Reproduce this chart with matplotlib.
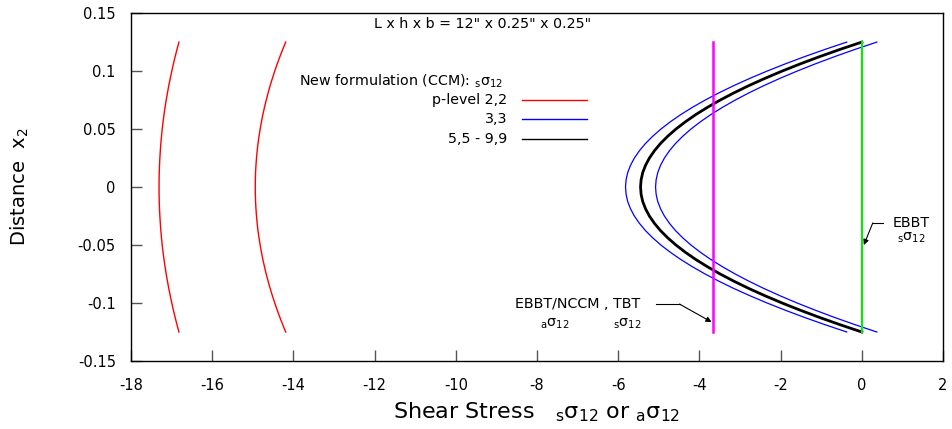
import matplotlib
matplotlib.use("Agg")
import matplotlib.pyplot as plt

plt.rcParams["axes.unicode_minus"] = False

# distance x2 over the upper half of the depth (h = 0.25"), profile is mirrored
x2_half = [0.0, 0.00625, 0.0125, 0.01875, 0.025, 0.03125, 0.0375, 0.04375, 0.05, 0.05625,
           0.0625, 0.06875, 0.075, 0.08125, 0.0875, 0.09375, 0.1, 0.10625, 0.1125, 0.11875, 0.125]

# shear stress, x2 = 0 ... 0.125
red_a_half = [-17.31, -17.309, -17.305, -17.299, -17.290, -17.279, -17.266, -17.250, -17.232, -17.211,
              -17.188, -17.162, -17.134, -17.103, -17.070, -17.034, -16.996, -16.956, -16.913, -16.868, -16.82]
red_b_half = [-14.94, -14.938, -14.933, -14.923, -14.910, -14.893, -14.873, -14.848, -14.82, -14.788,
              -14.753, -14.713, -14.67, -14.623, -14.573, -14.518, -14.46, -14.398, -14.333, -14.263, -14.19]
blue_outer_half = [-5.82, -5.806, -5.766, -5.697, -5.602, -5.479, -5.33, -5.152, -4.948, -4.716,
                   -4.458, -4.171, -3.858, -3.517, -3.15, -2.754, -2.332, -1.882, -1.406, -0.901, -0.37]
blue_inner_half = [-5.08, -5.066, -5.026, -4.957, -4.862, -4.739, -4.59, -4.412, -4.208, -3.976,
                   -3.718, -3.431, -3.118, -2.777, -2.41, -2.014, -1.592, -1.142, -0.666, -0.161, 0.37]
black_half = [-5.45, -5.436, -5.396, -5.327, -5.232, -5.109, -4.960, -4.782, -4.578, -4.346,
              -4.088, -3.801, -3.488, -3.147, -2.780, -2.384, -1.962, -1.512, -1.036, -0.531, 0.0]

ebbt_nccm = -3.67   # aσ12 / TBT sσ12
ebbt = 0.0          # EBBT sσ12
x2_ends = [-0.125, 0.125]

x2 = [-v for v in x2_half[::-1]] + x2_half[1:]


def full(half):
    return half[::-1] + half[1:]


fig = plt.figure(figsize=(9.53, 4.29), dpi=100)
ax = fig.add_axes([0.1375, 0.1585, 0.852, 0.811])

ax.plot(full(red_a_half), x2, color="#ff0000", lw=1.0)
ax.plot(full(red_b_half), x2, color="#ff0000", lw=1.0)
ax.plot(full(blue_outer_half), x2, color="#0000ff", lw=0.9)
ax.plot(full(blue_inner_half), x2, color="#0000ff", lw=0.9)
ax.plot(full(black_half), x2, color="black", lw=2.0)
ax.plot([ebbt_nccm, ebbt_nccm], x2_ends, color="#ff00ff", lw=1.8)
ax.plot([ebbt, ebbt], x2_ends, color="#00ee00", lw=1.5)

ax.set_xlim(-18, 2)
ax.set_ylim(-0.15, 0.15)
ax.set_xticks(range(-18, 3, 2))
ax.set_yticks([-0.15, -0.1, -0.05, 0, 0.05, 0.1, 0.15])
ax.set_yticklabels(["-0.15", "-0.1", "-0.05", "0", "0.05", "0.1", "0.15"])
ax.tick_params(direction="in", length=8, width=1, labelsize=10.5, color="#555555",
               top=False, right=False)
ax.tick_params(axis="y", pad=11)
ax.tick_params(axis="x", pad=12)
for s in ax.spines.values():
    s.set_linewidth(1.0)

ax.set_xlabel("Shear Stress   $_{\\rm s}$σ$_{\\rm 12}$ or $_{\\rm a}$σ$_{\\rm 12}$", fontsize=16)
ax.set_ylabel("Distance  x$_{\\rm 2}$", fontsize=14)
ax.xaxis.label.set_va("center")
ax.yaxis.label.set_va("center")
ax.xaxis.set_label_coords(0.5, -0.147)
ax.yaxis.set_label_coords(-0.137, 0.5)

fs = 10.3
ax.text(-9.35, 0.1405, 'L x h x b = 12" x 0.25" x 0.25"', fontsize=fs, ha="center", va="center")

# legend block
ax.text(-13.86, 0.0914, "New formulation (CCM): $_{\\rm s}$σ$_{\\rm 12}$", fontsize=fs, ha="left", va="center")
leg = [("p-level 2,2", "#ff0000", 0.075), ("3,3", "#0000ff", 0.0586), ("5,5 - 9,9", "black", 0.0414)]
for lab, c, yy in leg:
    ax.text(-8.73, yy, lab, fontsize=fs, ha="right", va="center")
    ax.plot([-8.38, -6.76], [yy, yy], color=c, lw=1.0)

# annotations
ax.text(-8.53, -0.1009, "EBBT/NCCM , TBT", fontsize=fs, ha="left", va="center")
ax.text(-7.92, -0.118, "$_{\\rm a}$σ$_{\\rm 12}$", fontsize=fs, ha="left", va="center")
ax.text(-6.12, -0.118, "$_{\\rm s}$σ$_{\\rm 12}$", fontsize=fs, ha="left", va="center")
ax.plot([-5.06, -4.49], [-0.1009, -0.1009], color="black", lw=0.8)
ax.annotate("", xy=(-3.70, -0.1164), xytext=(-4.49, -0.1009),
            arrowprops=dict(arrowstyle="-|>", color="black", lw=0.8, mutation_scale=8,
                            shrinkA=0, shrinkB=0))

ax.text(0.76, -0.031, "EBBT", fontsize=fs, ha="left", va="center")
ax.text(0.86, -0.044, "$_{\\rm s}$σ$_{\\rm 12}$", fontsize=fs, ha="left", va="center")
ax.plot([0.52, 0.27], [-0.031, -0.031], color="black", lw=0.8)
ax.annotate("", xy=(0.05, -0.05), xytext=(0.27, -0.031),
            arrowprops=dict(arrowstyle="-|>", color="black", lw=0.8, mutation_scale=8,
                            shrinkA=0, shrinkB=0))

fig.savefig("out.png", dpi=100)
